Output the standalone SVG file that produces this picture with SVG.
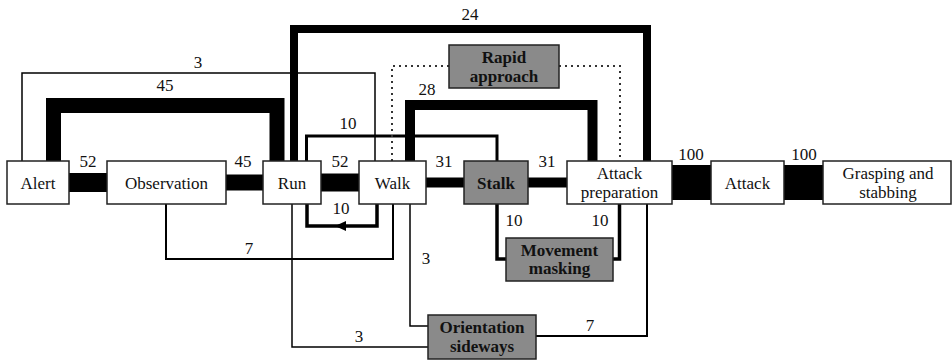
<svg xmlns="http://www.w3.org/2000/svg" width="952" height="363" viewBox="0 0 952 363">
<style>
.box{fill:#fff;stroke:#222;stroke-width:1.5}
.gbox{fill:#8a8a8a;stroke:#222;stroke-width:1.5}
.c{fill:none;stroke:#000;stroke-linejoin:miter;stroke-linecap:butt}
.dot{fill:none;stroke:#333;stroke-width:2;stroke-dasharray:2 4}
text{font-family:'Liberation Serif','DejaVu Serif','Times New Roman',Times,'Noto Serif',serif;font-size:17px;fill:#111;text-anchor:middle}
.b{font-weight:bold}
</style>
<rect width="952" height="363" fill="#fff"/>
<g id="connectors">
<path class="c" d="M69,182.5H107" stroke-width="19"/>
<path class="c" d="M226,182.5H263" stroke-width="16"/>
<path class="c" d="M321,182.5H359" stroke-width="18"/>
<path class="c" d="M426,182.5H464" stroke-width="10"/>
<path class="c" d="M528,182.5H567" stroke-width="10"/>
<path class="c" d="M672,182.5H711" stroke-width="35"/>
<path class="c" d="M784,182.5H823" stroke-width="35"/>
<path class="c" d="M22,161V73H375V161" stroke-width="1.5"/>
<path class="c" d="M53.5,161V105.5H277V161" stroke-width="15"/>
<path class="c" d="M294,161V29H647V161" stroke-width="8"/>
<path class="c" d="M306.5,161V136H497V161" stroke-width="3"/>
<path class="c" d="M410,161V105H592.5V161" stroke-width="10"/>
<path class="dot" d="M392,161V66H449M559,66H620V161"/>
<path class="c" d="M377,204V226H307V204" stroke-width="3.5"/>
<polygon points="335,226 346,221 346,231" fill="#000"/>
<path class="c" d="M166,204V259H393V204" stroke-width="2"/>
<path class="c" d="M292,204V347H428" stroke-width="1.5"/>
<path class="c" d="M410,204V326H428" stroke-width="1.5"/>
<path class="c" d="M536,336H647V204" stroke-width="2"/>
<path class="c" d="M497,204V259H506" stroke-width="3.5"/>
<path class="c" d="M613,259H619.5V204" stroke-width="3.5"/>
<g font-family="'Liberation Serif','DejaVu Serif',serif">
<text x="198" y="68">3</text>
<text x="165" y="91">45</text>
<text x="88" y="167">52</text>
<text x="243" y="167">45</text>
<text x="470" y="20">24</text>
<text x="348" y="129">10</text>
<text x="427" y="95">28</text>
<text x="340" y="167">52</text>
<text x="444" y="167">31</text>
<text x="547" y="167">31</text>
<text x="691" y="160">100</text>
<text x="804" y="160">100</text>
<text x="341" y="214">10</text>
<text x="249" y="254">7</text>
<text x="426" y="264">3</text>
<text x="359" y="342">3</text>
<text x="590" y="331">7</text>
<text x="514" y="226">10</text>
<text x="600" y="226">10</text>
</g>
</g>
<g id="alert"><rect class="box" x="7" y="161" width="62" height="43"/><text x="38" y="189">Alert</text></g>
<g id="observation"><rect class="box" x="107" y="161" width="119" height="43"/><text x="166.5" y="189">Observation</text></g>
<g id="run"><rect class="box" x="263" y="161" width="58" height="43"/><text x="292" y="189">Run</text></g>
<g id="walk"><rect class="box" x="359" y="161" width="67" height="43"/><text x="392.5" y="189">Walk</text></g>
<g id="stalk"><rect class="gbox" x="464" y="161" width="64" height="43"/><text class="b" x="496" y="189">Stalk</text></g>
<g id="attack-preparation"><rect class="box" x="567" y="161" width="105" height="43"/><text x="619.5" y="179">Attack</text><text x="619.5" y="198">preparation</text></g>
<g id="attack"><rect class="box" x="711" y="161" width="73" height="43"/><text x="747.5" y="189">Attack</text></g>
<g id="grasping"><rect class="box" x="823" y="161" width="128" height="43"/><text x="888" y="179">Grasping and</text><text x="888" y="198">stabbing</text></g>
<g id="rapid-approach"><rect class="gbox" x="449" y="45" width="110" height="43"/><text class="b" x="504" y="63">Rapid</text><text class="b" x="504" y="82">approach</text></g>
<g id="movement-masking"><rect class="gbox" x="506" y="238" width="107" height="43"/><text class="b" x="559.5" y="256">Movement</text><text class="b" x="559.5" y="274">masking</text></g>
<g id="orientation-sideways"><rect class="gbox" x="428" y="315" width="108" height="44"/><text class="b" x="482" y="333">Orientation</text><text class="b" x="482" y="352">sideways</text></g>
</svg>
